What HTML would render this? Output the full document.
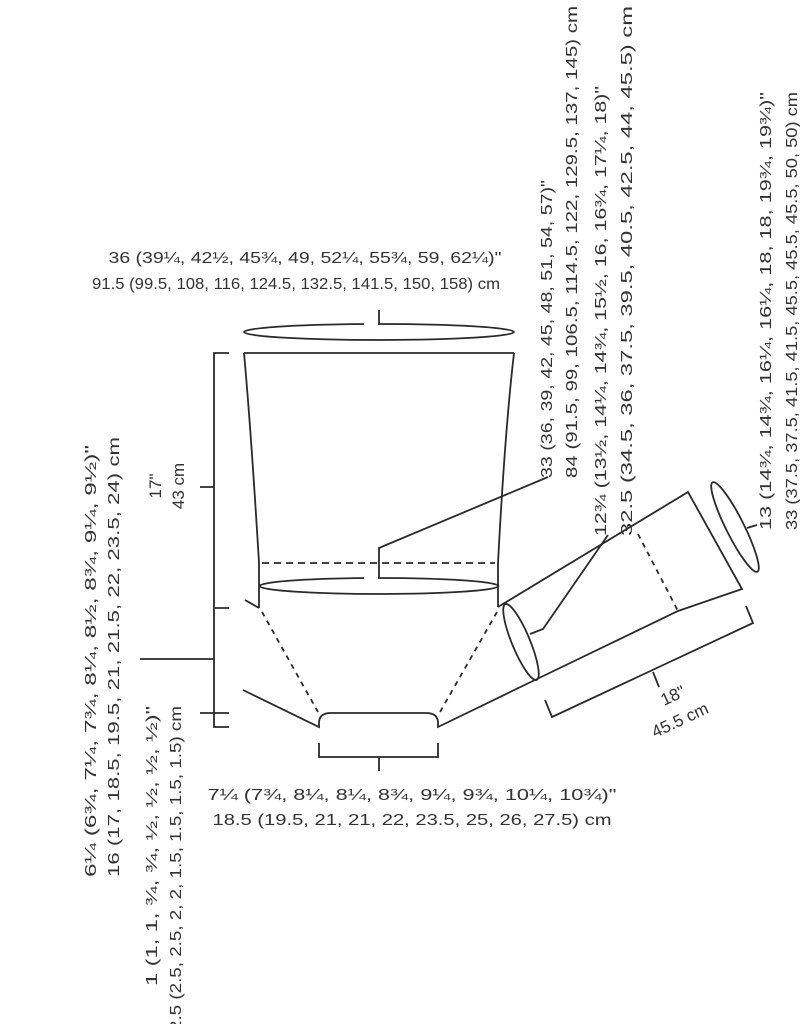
<!DOCTYPE html>
<html><head><meta charset="utf-8"><style>
html,body{margin:0;padding:0;background:#fff;overflow:hidden;}
svg{display:block;}
text{font-family:"Liberation Sans",sans-serif;font-size:16px;fill:#333;}
</style></head><body>
<svg width="800" height="1024" viewBox="0 0 800 1024" xmlns="http://www.w3.org/2000/svg">
<g fill="none" stroke="#2a2a2a" stroke-width="1.8">
<ellipse cx="379" cy="332" rx="135" ry="8"/>
<path d="M379,310 L379,324.5"/>
<path d="M244,353 L514,353"/>
<path d="M244,353 Q251,430 259,563 L259,608"/>
<path d="M514,353 Q505,430 498,563 L498,607"/>
<path d="M245,600 L259,608"/>
<path d="M262,563 L495,563" stroke-dasharray="7,5"/>
<ellipse cx="379" cy="586" rx="119.5" ry="8"/>
<path d="M262,612 L318,712" stroke-dasharray="5,5"/>
<path d="M497,612 L440,712" stroke-dasharray="5,5"/>
<path d="M243,690 L319,727 L319,723 Q319,713 331,713 L426,713 Q438,713 438,723 L438,727 L537,679"/>
<path d="M319,743 L319,757 L438,757 L438,743 M379,757 L379,771"/>
<path d="M229,353 L214,353 L214,727 L229,727 M200,487 L214,487 M214,608 L229,608 M140,659 L214,659 M200,713 L229,713"/>
<path d="M498,607 L688,492 L742,589 L678,611 L537,679"/>
<path d="M638,534 L678,611" stroke-dasharray="5,5"/>
<ellipse cx="521" cy="642" rx="41" ry="9" transform="rotate(67.5 521 642)"/>
<ellipse cx="735" cy="527" rx="50" ry="9" transform="rotate(63.4 735 527)"/>
<path d="M545,700 L552,717 L753,623 L746,606 M653,672 L659,687"/>
</g>
<rect x="364" y="320" width="14" height="8" fill="#fff"/>
<rect x="364" y="574" width="14" height="8" fill="#fff"/>
<g fill="none" stroke="#2a2a2a" stroke-width="1.8">
<path d="M379,578 L379,548 L548,477"/>
<path d="M608,535 L543,629 L530,634"/>
<path d="M757,525 L747,528"/>
</g>
<text x="305" y="263" text-anchor="middle" textLength="393" lengthAdjust="spacingAndGlyphs">36 (39¼, 42½, 45¾, 49, 52¼, 55¾, 59, 62¼)"</text>
<text x="296" y="289" text-anchor="middle" textLength="408" lengthAdjust="spacingAndGlyphs">91.5 (99.5, 108, 116, 124.5, 132.5, 141.5, 150, 158) cm</text>
<text x="412" y="800" text-anchor="middle" textLength="409" lengthAdjust="spacingAndGlyphs">7¼ (7¾, 8¼, 8¼, 8¾, 9¼, 9¾, 10¼, 10¾)"</text>
<text x="412" y="825" text-anchor="middle" textLength="399" lengthAdjust="spacingAndGlyphs">18.5 (19.5, 21, 21, 22, 23.5, 25, 26, 27.5) cm</text>
<text transform="translate(664,706) rotate(-25)" style="font-size:17px">18"</text>
<text transform="translate(655,738) rotate(-25)" style="font-size:17px">45.5 cm</text>
<text transform="translate(161,486) rotate(-90)" text-anchor="middle" style="font-size:17px">17"</text>
<text transform="translate(184,486) rotate(-90)" text-anchor="middle" style="font-size:17px">43 cm</text>
<text transform="translate(96,877) rotate(-90)" textLength="432" lengthAdjust="spacingAndGlyphs">6¼ (6¾, 7¼, 7¾, 8¼, 8½, 8¾, 9¼, 9½)"</text>
<text transform="translate(119,877) rotate(-90)" textLength="440" lengthAdjust="spacingAndGlyphs">16 (17, 18.5, 19.5, 21, 21.5, 22, 23.5, 24) cm</text>
<text transform="translate(157,986) rotate(-90)" textLength="280" lengthAdjust="spacingAndGlyphs">1 (1, 1, ¾, ¾, ½, ½, ½, ½)"</text>
<text transform="translate(181,1031) rotate(-90)" textLength="325" lengthAdjust="spacingAndGlyphs">2.5 (2.5, 2.5, 2, 2, 1.5, 1.5, 1.5, 1.5) cm</text>
<text transform="translate(552,478) rotate(-90)" textLength="298" lengthAdjust="spacingAndGlyphs">33 (36, 39, 42, 45, 48, 51, 54, 57)"</text>
<text transform="translate(577,478) rotate(-90)" textLength="472" lengthAdjust="spacingAndGlyphs">84 (91.5, 99, 106.5, 114.5, 122, 129.5, 137, 145) cm</text>
<text transform="translate(606,536) rotate(-90)" textLength="450" lengthAdjust="spacingAndGlyphs">12¾ (13½, 14¼, 14¾, 15½, 16, 16¾, 17¼, 18)"</text>
<text transform="translate(632,536) rotate(-90)" textLength="530" lengthAdjust="spacingAndGlyphs">32.5 (34.5, 36, 37.5, 39.5, 40.5, 42.5, 44, 45.5) cm</text>
<text transform="translate(771,530) rotate(-90)" textLength="438" lengthAdjust="spacingAndGlyphs">13 (14¾, 14¾, 16¼, 16¼, 18, 18, 19¾, 19¾)"</text>
<text transform="translate(797,530) rotate(-90)" textLength="438" lengthAdjust="spacingAndGlyphs">33 (37.5, 37.5, 41.5, 41.5, 45.5, 45.5, 45.5, 50, 50) cm</text>
</svg>
</body></html>
